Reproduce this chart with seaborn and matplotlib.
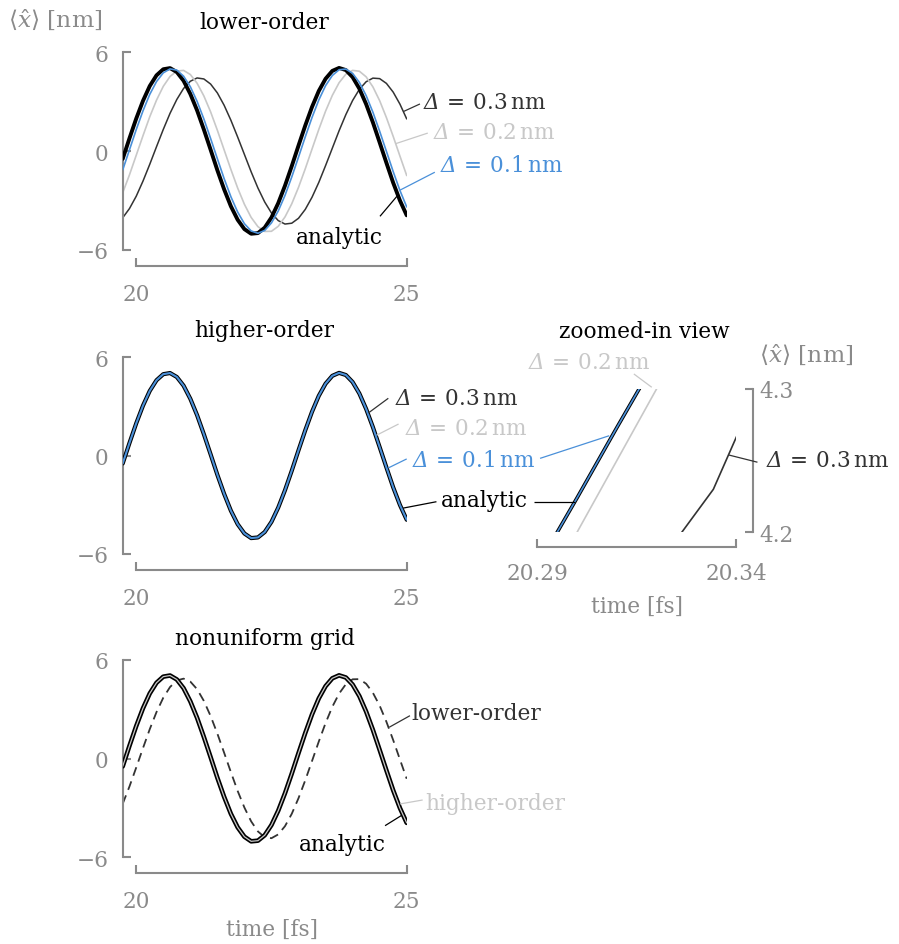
import matplotlib
matplotlib.use("Agg")
import matplotlib.pyplot as plt
import seaborn as sns

# ---------------------------------------------------------------- data
time_fs = [19.75, 19.875, 20.0, 20.125, 20.25, 20.375, 20.5, 20.625, 20.75, 20.875,
           21.0, 21.125, 21.25, 21.375, 21.5, 21.625, 21.75, 21.875, 22.0, 22.125,
           22.25, 22.375, 22.5, 22.625, 22.75, 22.875, 23.0, 23.125, 23.25, 23.375,
           23.5, 23.625, 23.75, 23.875, 24.0, 24.125, 24.25, 24.375, 24.5, 24.625,
           24.75, 24.875, 25.0]

analytic = [-0.48, 0.77, 1.97, 3.05, 3.95, 4.60, 4.97, 5.04, 4.80, 4.27,
            3.47, 2.47, 1.31, 0.08, -1.17, -2.33, -3.36, -4.18, -4.75, -5.03,
            -4.99, -4.66, -4.04, -3.17, -2.11, -0.92, 0.33, 1.55, 2.68, 3.65,
            4.39, 4.87, 5.05, 4.92, 4.49, 3.79, 2.85, 1.74, 0.52, -0.72,
            -1.93, -3.01, -3.91]

# lower-order scheme, three grid spacings
lower_d01 = [-1.15, 0.07, 1.30, 2.44, 3.44, 4.22, 4.75, 4.99, 4.92, 4.55,
             3.91, 3.02, 1.95, 0.76, -0.47, -1.68, -2.78, -3.71, -4.42, -4.86,
             -5.00, -4.83, -4.37, -3.65, -2.70, -1.58, -0.37, 0.86, 2.04, 3.10,
             3.97, 4.59, 4.94, 4.98, 4.72, 4.17, 3.37, 2.36, 1.20, -0.02,
             -1.25, -2.40, -3.40]
lower_d02 = [-2.54, -1.45, -0.26, 0.93, 2.08, 3.09, 3.93, 4.53, 4.86, 4.90,
             4.65, 4.12, 3.35, 2.38, 1.26, 0.07, -1.12, -2.25, -3.24, -4.04,
             -4.60, -4.89, -4.88, -4.58, -4.01, -3.21, -2.21, -1.08, 0.12, 1.31,
             2.42, 3.38, 4.15, 4.67, 4.90, 4.85, 4.51, 3.90, 3.06, 2.03,
             0.89, -0.31, -1.49]
lower_d03 = [-4.06, -3.50, -2.75, -1.83, -0.81, 0.26, 1.31, 2.29, 3.13, 3.80,
             4.24, 4.44, 4.38, 4.07, 3.53, 2.78, 1.87, 0.85, -0.21, -1.27,
             -2.25, -3.10, -3.77, -4.23, -4.44, -4.39, -4.09, -3.55, -2.81, -1.91,
             -0.89, 0.17, 1.23, 2.21, 3.07, 3.75, 4.21, 4.43, 4.40, 4.11,
             3.58, 2.85, 1.95]

# higher-order scheme: indistinguishable from the analytic curve at this scale
higher_d01 = list(analytic)
higher_d02 = list(analytic)
higher_d03 = list(analytic)

# nonuniform grid
nonuni_lower = [-2.75, -1.70, -0.55, 0.63, 1.78, 2.82, 3.69, 4.34, 4.74, 4.85,
                4.67, 4.21, 3.50, 2.58, 1.51, 0.35, -0.83, -1.97, -2.98, -3.82,
                -4.43, -4.78, -4.84, -4.61, -4.11, -3.36, -2.41, -1.32, -0.15, 1.03,
                2.15, 3.14, 3.94, 4.51, 4.81, 4.82, 4.54, 3.99, 3.21, 2.23,
                1.12, -0.06, -1.23]
nonuni_higher = list(analytic)

# zoomed-in view of the higher-order run
zoom_t_analytic = [20.29, 20.30, 20.31, 20.32]
zoom_analytic = [4.176, 4.224, 4.273, 4.321]
zoom_d01 = [4.176, 4.224, 4.273, 4.321]
zoom_t_d02 = [20.29, 20.30, 20.31, 20.32, 20.33]
zoom_d02 = [4.151, 4.200, 4.250, 4.300, 4.350]
zoom_t_d03 = [20.3200, 20.3343, 20.3443]
zoom_d03 = [4.176, 4.230, 4.293]

main_xticks = [20, 25]
main_yticks = [-6, 0, 6]
zoom_xticks = [20.29, 20.34]
zoom_xticklabels = ["20.29", "20.34"]
zoom_yticks = [4.2, 4.3]
zoom_yticklabels = ["4.2", "4.3"]

# ---------------------------------------------------------------- style
sns.set_theme(style="ticks")
plt.rcParams["font.family"] = ["DejaVu Serif"]
# custom math fonts: \mathsf is mapped to the italic face so that a slanted
# capital Delta can be set (the 'it' face keeps capital Greek upright)
plt.rcParams["mathtext.fontset"] = "custom"
plt.rcParams["mathtext.rm"] = "DejaVu Serif"
plt.rcParams["mathtext.it"] = "DejaVu Serif:italic"
plt.rcParams["mathtext.bf"] = "DejaVu Serif:bold"
plt.rcParams["mathtext.sf"] = "DejaVu Serif:italic"
plt.rcParams["mathtext.fallback"] = "stix"

FS = 15.6
FS_YLABEL = 16.8
GRAY = "#8a8a8a"
DARK = "#333333"
LIGHT = "#c8c8c8"
BLUE = "#4a90d9"
BLACK = "#000000"

W, H = 899, 945
fig = plt.figure(figsize=(W / 100, H / 100), dpi=100)
fig.patch.set_facecolor("white")


def px_axes(left, top, right, bottom):
    return fig.add_axes([left / W, 1 - bottom / H, (right - left) / W, (bottom - top) / H])


def fig_text(px, py, s, color, ha="left", size=FS):
    fig.text(px / W, 1 - py / H, s, color=color, fontsize=size, ha=ha, va="baseline")


def curve(ax, t, v, color, lw, ls="-", z=2):
    sns.lineplot(x=t, y=v, ax=ax, color=color, linewidth=lw, linestyle=ls,
                 zorder=z, estimator=None, sort=False)


def label(ax, x, y, s, color):
    ax.text(x, y, s, color=color, fontsize=FS, ha="left", va="baseline", clip_on=False)


def leader(ax, xs, ys, color, lw=0.9):
    ax.plot(xs, ys, color=color, lw=lw, clip_on=False, solid_capstyle="butt", zorder=5)


def delta(v):
    return r"$\mathsf{\Delta}\ \!=\ \!%s\,\mathrm{nm}$" % v


def style_main(ax):
    ax.set_xlim(19.75, 25)
    ax.set_ylim(-6, 6)
    ax.set_xticks(main_xticks)
    ax.set_yticks(main_yticks)
    for s in ("top", "right"):
        ax.spines[s].set_visible(False)
    ax.spines["bottom"].set_position(("outward", 16 * 0.72))
    ax.spines["bottom"].set_bounds(20, 25)
    ax.spines["left"].set_bounds(-6, 6)
    for s in ("left", "bottom"):
        ax.spines[s].set_color(GRAY)
        ax.spines[s].set_linewidth(1.5)
    ax.tick_params(direction="in", length=6, width=1.5, color=GRAY,
                   labelcolor=GRAY, labelsize=FS)
    ax.tick_params(axis="y", pad=10.4)
    ax.tick_params(axis="x", pad=12.3)
    ax.set_xlabel("")
    ax.set_ylabel("")
    ax.set_facecolor("none")


ax1 = px_axes(122.7, 53.3, 406.7, 250.7)
ax2 = px_axes(122.7, 358.3, 406.7, 555.0)
ax3 = px_axes(122.7, 660.7, 406.7, 858.3)
ax4 = px_axes(537.3, 390.0, 736.0, 533.3)

YLABEL = r"$\langle\hat{x}\rangle$ [nm]"

# ---------------------------------------------------------------- lower-order
curve(ax1, time_fs, lower_d03, DARK, 1.1)
curve(ax1, time_fs, lower_d02, LIGHT, 1.2)
curve(ax1, time_fs, analytic, BLACK, 2.8, z=3)
curve(ax1, time_fs, lower_d01, BLUE, 1.2, z=4)
style_main(ax1)

label(ax1, 25.305, 2.59, delta("0.3"), DARK)
label(ax1, 25.48, 0.77, delta("0.2"), LIGHT)
label(ax1, 25.615, -1.20, delta("0.1"), BLUE)
label(ax1, 22.953, -5.61, "analytic", BLACK)
leader(ax1, [24.94, 25.245], [2.40, 2.86], DARK)
leader(ax1, [24.80, 25.39], [0.45, 1.09], LIGHT)
leader(ax1, [24.876, 25.52], [-2.38, -1.29], BLUE)
leader(ax1, [24.82, 24.506], [-2.75, -3.97], BLACK)

fig_text(264, 29.3, "lower-order", BLACK, ha="center")
fig_text(8.3, 28, YLABEL, GRAY, size=FS_YLABEL)

# ---------------------------------------------------------------- higher-order
curve(ax2, time_fs, higher_d03, DARK, 1.1)
curve(ax2, time_fs, higher_d02, LIGHT, 1.2)
curve(ax2, time_fs, analytic, BLACK, 3.0, z=3)
curve(ax2, time_fs, higher_d01, BLUE, 1.5, z=4)
style_main(ax2)

label(ax2, 24.78, 3.15, delta("0.3"), DARK)
label(ax2, 24.97, 1.32, delta("0.2"), LIGHT)
label(ax2, 25.09, -0.65, delta("0.1"), BLUE)
label(ax2, 25.64, -3.05, "analytic", BLACK)
leader(ax2, [24.29, 24.66], [2.60, 3.50], DARK)
leader(ax2, [24.445, 24.85], [1.25, 1.93], LIGHT)
leader(ax2, [24.66, 25.0], [-0.75, -0.20], BLUE)
leader(ax2, [24.935, 25.55], [-3.20, -2.81], BLACK)

fig_text(264, 337.5, "higher-order", BLACK, ha="center")

# ---------------------------------------------------------------- nonuniform grid
curve(ax3, time_fs, nonuni_lower, DARK, 1.3, ls=(0, (5, 3.3)), z=2)
curve(ax3, time_fs, analytic, BLACK, 3.3, z=3)
curve(ax3, time_fs, nonuni_higher, LIGHT, 0.9, z=4)
style_main(ax3)

label(ax3, 25.093, 2.40, "lower-order", DARK)
label(ax3, 25.34, -3.07, "higher-order", LIGHT)
label(ax3, 23.0, -5.54, "analytic", BLACK)
leader(ax3, [24.678, 25.06], [1.90, 2.60], DARK)
leader(ax3, [24.876, 25.295], [-2.76, -2.52], LIGHT)
leader(ax3, [24.60, 24.908], [-4.08, -3.45], BLACK)

fig_text(264.7, 645, "nonuniform grid", BLACK, ha="center")
fig_text(272.5, 936, "time [fs]", GRAY, ha="center")

# ---------------------------------------------------------------- zoomed-in view
curve(ax4, zoom_t_d03, zoom_d03, DARK, 1.2)
curve(ax4, zoom_t_d02, zoom_d02, LIGHT, 1.2)
curve(ax4, zoom_t_analytic, zoom_analytic, BLACK, 2.6, z=3)
curve(ax4, zoom_t_analytic, zoom_d01, BLUE, 1.2, z=4)
ax4.set_xlim(20.29, 20.34)
ax4.set_ylim(4.2, 4.3)
ax4.yaxis.tick_right()
ax4.set_xticks(zoom_xticks)
ax4.set_xticklabels(zoom_xticklabels)
ax4.set_yticks(zoom_yticks)
ax4.set_yticklabels(zoom_yticklabels)
for s in ("top", "left"):
    ax4.spines[s].set_visible(False)
ax4.spines["bottom"].set_position(("outward", 14.4 * 0.72))
ax4.spines["right"].set_position(("outward", 16.7 * 0.72))
ax4.spines["bottom"].set_bounds(20.29, 20.34)
ax4.spines["right"].set_bounds(4.2, 4.3)
for s in ("right", "bottom"):
    ax4.spines[s].set_color(GRAY)
    ax4.spines[s].set_linewidth(1.5)
ax4.tick_params(direction="in", length=6, width=1.5, color=GRAY,
                labelcolor=GRAY, labelsize=FS)
ax4.tick_params(axis="y", pad=4.8)
ax4.tick_params(axis="x", pad=10.9)
ax4.set_xlabel("")
ax4.set_ylabel("")
ax4.set_facecolor("none")

label(ax4, 20.2877, 4.3144, delta("0.2"), LIGHT)
leader(ax4, [20.3143, 20.3188], [4.3105, 4.3012], LIGHT)
leader(ax4, [20.2907, 20.3081], [4.2516, 4.2674], BLUE)
leader(ax4, [20.2892, 20.2995], [4.2214, 4.2214], BLACK)
label(ax4, 20.3475, 4.2465, delta("0.3"), DARK)
leader(ax4, [20.3381, 20.3454], [4.254, 4.2489], DARK)

fig_text(644.5, 337.5, "zoomed-in view", BLACK, ha="center")
fig_text(759.3, 362.7, YLABEL, GRAY, size=FS_YLABEL)
fig_text(637, 613.3, "time [fs]", GRAY, ha="center")

fig.savefig("out.png", dpi=100, facecolor="white")
